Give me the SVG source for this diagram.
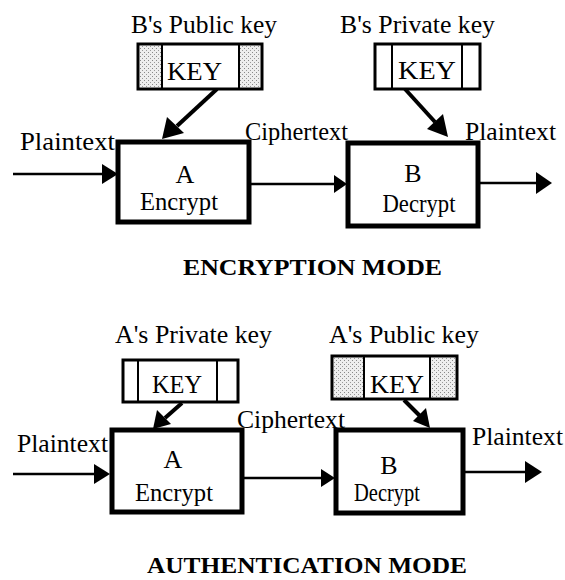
<svg xmlns="http://www.w3.org/2000/svg" width="565" height="580" viewBox="0 0 565 580">
<defs>
<pattern id="stip" width="4" height="4" patternUnits="userSpaceOnUse">
<rect width="4" height="4" fill="#eeeeee"/>
<rect x="0" y="0" width="1" height="1" fill="#888"/>
<rect x="2" y="2" width="1" height="1" fill="#999"/>
</pattern>
</defs>
<style>
.t{font-family:"Liberation Serif","Times New Roman",serif;font-size:25px;fill:#000}
.b{font-family:"Liberation Serif","Times New Roman",serif;font-size:26px;fill:#000}
.h{font-family:"Liberation Serif","Times New Roman",serif;font-size:23px;font-weight:bold;fill:#000}
.box{fill:#fff;stroke:#000;stroke-width:5}
.key{fill:#fff;stroke:#000;stroke-width:3}
.sh{fill:url(#stip);stroke:none}
.div{stroke:#000;stroke-width:2}
.ln{stroke:#000;stroke-width:2.5;fill:none}
.kl{stroke:#000;stroke-width:4;fill:none}
.ah{fill:#000}
</style>
<rect width="565" height="580" fill="#fff"/>

<g id="connectors">
<line class="ln" x1="13" y1="174" x2="106" y2="174"/>
<polygon class="ah" points="102,164 118,174 102,184"/>
<line class="ln" x1="250" y1="184" x2="335" y2="184"/>
<polygon class="ah" points="334,175 347,184 334,193"/>
<line class="ln" x1="480" y1="183" x2="540" y2="183"/>
<polygon class="ah" points="536,172 552,183 536,194"/>
<line class="kl" x1="217" y1="89" x2="177" y2="126"/>
<polygon class="ah" points="162,139 167,117 184,133"/>
<line class="kl" x1="405" y1="89" x2="435" y2="122"/>
<polygon class="ah" points="448,137 427,129 443,114"/>
<line class="ln" x1="13" y1="474" x2="97" y2="474"/>
<polygon class="ah" points="94,464 110,474 94,484"/>
<line class="ln" x1="243" y1="478" x2="323" y2="478"/>
<polygon class="ah" points="321,469 335,478 321,487"/>
<line class="ln" x1="465" y1="472" x2="528" y2="472"/>
<polygon class="ah" points="525,461 542,472 525,483"/>
<line class="kl" x1="182" y1="403" x2="165" y2="418"/>
<polygon class="ah" points="153,429 157,410 171,424"/>
<line class="kl" x1="404" y1="400" x2="420" y2="416"/>
<polygon class="ah" points="430,428 413,421 426,408"/>
</g>

<g id="key1">
<rect class="key" x="138" y="44" width="124" height="45"/>
<rect class="sh" x="140" y="46" width="21" height="41"/>
<rect class="sh" x="240" y="46" width="20" height="41"/>
<line class="div" x1="162" y1="44" x2="162" y2="89"/>
<line class="div" x1="239" y1="44" x2="239" y2="89"/>
<text class="b" x="167" y="80" textLength="55" lengthAdjust="spacingAndGlyphs">KEY</text>
</g>
<g id="key2">
<rect class="key" x="375" y="44" width="105" height="45"/>
<line class="div" x1="392" y1="44" x2="392" y2="89"/>
<line class="div" x1="462" y1="44" x2="462" y2="89"/>
<text class="b" x="398" y="79" textLength="58" lengthAdjust="spacingAndGlyphs">KEY</text>
</g>
<g id="boxA1">
<rect class="box" x="118" y="142" width="131" height="80"/>
<text class="b" x="185" y="183" text-anchor="middle">A</text>
<text class="b" x="179" y="210" text-anchor="middle" textLength="78" lengthAdjust="spacingAndGlyphs">Encrypt</text>
</g>
<g id="boxB1">
<rect class="box" x="348" y="143" width="130" height="83"/>
<text class="b" x="413" y="182" text-anchor="middle">B</text>
<text class="b" x="419" y="212" text-anchor="middle" textLength="73" lengthAdjust="spacingAndGlyphs">Decrypt</text>
</g>
<g id="labels1">
<text class="t" x="131" y="33" textLength="146" lengthAdjust="spacingAndGlyphs">B's Public key</text>
<text class="t" x="340" y="33" textLength="155" lengthAdjust="spacingAndGlyphs">B's Private key</text>
<text class="t" x="20" y="150" textLength="95" lengthAdjust="spacingAndGlyphs">Plaintext</text>
<text class="t" x="245" y="140" textLength="103" lengthAdjust="spacingAndGlyphs">Ciphertext</text>
<text class="t" x="465" y="140" textLength="91" lengthAdjust="spacingAndGlyphs">Plaintext</text>
<text class="h" x="183" y="275" textLength="259" lengthAdjust="spacingAndGlyphs">ENCRYPTION MODE</text>
</g>

<g id="key3">
<rect class="key" x="123" y="360" width="115" height="42"/>
<line class="div" x1="138" y1="360" x2="138" y2="402"/>
<line class="div" x1="217" y1="360" x2="217" y2="402"/>
<text class="b" x="152" y="393" textLength="50" lengthAdjust="spacingAndGlyphs">KEY</text>
</g>
<g id="key4">
<rect class="key" x="332" y="356" width="125" height="43"/>
<rect class="sh" x="334" y="358" width="29" height="39"/>
<rect class="sh" x="431" y="358" width="24" height="39"/>
<line class="div" x1="364" y1="356" x2="364" y2="399"/>
<line class="div" x1="430" y1="356" x2="430" y2="399"/>
<text class="b" x="370" y="393" textLength="54" lengthAdjust="spacingAndGlyphs">KEY</text>
</g>
<g id="boxA2">
<rect class="box" x="112" y="430" width="130" height="82"/>
<text class="b" x="173" y="468" text-anchor="middle">A</text>
<text class="b" x="174" y="501" text-anchor="middle" textLength="78" lengthAdjust="spacingAndGlyphs">Encrypt</text>
</g>
<g id="boxB2">
<rect class="box" x="336" y="430" width="127" height="83"/>
<text class="b" x="389" y="474" text-anchor="middle">B</text>
<text class="b" x="387" y="501" text-anchor="middle" textLength="66" lengthAdjust="spacingAndGlyphs">Decrypt</text>
</g>
<g id="labels2">
<text class="t" x="115" y="343" textLength="157" lengthAdjust="spacingAndGlyphs">A's Private key</text>
<text class="t" x="329" y="343" textLength="150" lengthAdjust="spacingAndGlyphs">A's Public key</text>
<text class="t" x="17" y="452" textLength="91" lengthAdjust="spacingAndGlyphs">Plaintext</text>
<text class="t" x="237" y="428" textLength="108" lengthAdjust="spacingAndGlyphs">Ciphertext</text>
<text class="t" x="472" y="445" textLength="91" lengthAdjust="spacingAndGlyphs">Plaintext</text>
<text class="h" x="147" y="573" textLength="320" lengthAdjust="spacingAndGlyphs">AUTHENTICATION MODE</text>
</g>
</svg>
